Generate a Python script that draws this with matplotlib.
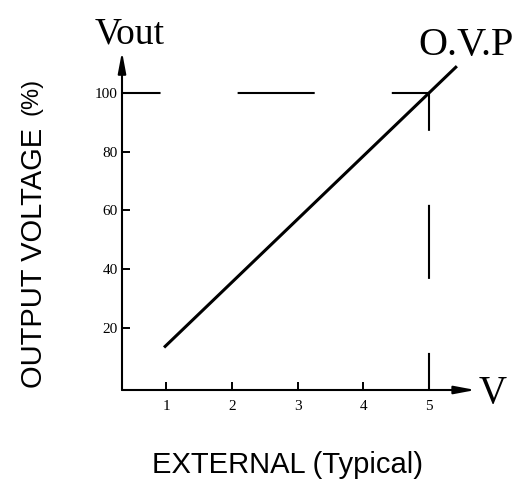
import matplotlib
matplotlib.use("Agg")
import matplotlib.pyplot as plt
from matplotlib import font_manager

# ---- data ----
x_ticks = [1, 2, 3, 4, 5]
x_tick_labels = ["1", "2", "3", "4", "5"]
y_ticks = [20, 40, 60, 80, 100]
y_tick_labels = ["20", "40", "60", "80", "100"]
line_x = [0.97, 5.42]
line_y = [13.5, 109.0]
ovp_x = 5
ovp_y = 100

plt.rcParams['lines.scale_dashes'] = False

fam_names = {f.name for f in font_manager.fontManager.ttflist}
if "Liberation Sans Narrow" in fam_names:
    sans = dict(family="Liberation Sans Narrow")
    sans_size = 25
    pct_size = 21
else:
    sans = dict(family="Liberation Sans")
    sans_size = 21
    pct_size = 17
serif = dict(family="Liberation Serif")

W, H = 523, 482
fig = plt.figure(figsize=(W / 100, H / 100), dpi=100)

def fx(px):
    return px / W

def fy(py):
    return 1 - py / H

ax = fig.add_axes([fx(122), fy(390), fx(472) - fx(122), fy(55) - fy(390)])
ax.set_xlim(0.331, 5.65)
ax.set_ylim(-0.95, 112.8)
for s in ax.spines.values():
    s.set_visible(False)

# axes with arrows
arrow = dict(arrowstyle="-|>,head_length=0.9,head_width=0.17", lw=1.5,
             color="black", mutation_scale=14, shrinkA=0, shrinkB=0)
ax.annotate("", xy=(1.01, 0), xytext=(0, 0), xycoords="axes fraction",
            textcoords="axes fraction", arrowprops=arrow, annotation_clip=False)
ax.annotate("", xy=(0, 1.01), xytext=(0, 0), xycoords="axes fraction",
            textcoords="axes fraction", arrowprops=arrow, annotation_clip=False)

ax.set_xticks(x_ticks)
ax.set_xticklabels(x_tick_labels, fontsize=11, **serif)
ax.set_yticks(y_ticks)
ax.set_yticklabels(y_tick_labels, fontsize=11, **serif)
ax.tick_params(axis="both", direction="in", length=5.8, width=1.4, color="black")
ax.tick_params(axis="x", pad=7)
ax.tick_params(axis="y", pad=3)

# dashed guide lines at O.V.P
y0 = ax.get_ylim()[0]
x0 = ax.get_xlim()[0]
ax.plot([x0, ovp_x], [ovp_y, ovp_y], color="black", lw=1.5,
        linestyle=(27.75, (55.5, 55.5)), solid_capstyle="butt", dash_capstyle="butt")
ax.plot([ovp_x, ovp_x], [y0, ovp_y], color="black", lw=1.5,
        linestyle=(26.6, (53.3, 53.3)), solid_capstyle="butt", dash_capstyle="butt")

# main characteristic line
ax.plot(line_x, line_y, color="black", lw=2.2, solid_capstyle="butt")

# texts
fig.text(fx(130), fy(43), "Vout", ha="center", va="baseline", fontsize=27, **serif)
fig.text(fx(466), fy(55), "O.V.P", ha="center", va="baseline", fontsize=29, **serif)
fig.text(fx(493), fy(403), "V", ha="center", va="baseline", fontsize=28, **serif)

fig.text(fx(41.7), fy(257.5), "OUTPUT VOLTAGE", rotation=90, rotation_mode="anchor",
         ha="center", va="baseline", fontsize=sans_size, **sans)
fig.text(fx(37), fy(96), "(%)", rotation=90, rotation_mode="anchor",
         ha="center", va="baseline", fontsize=pct_size, **sans)
fig.text(fx(288), fy(472.7), "EXTERNAL (Typical)", ha="center", va="baseline",
         fontsize=sans_size, **sans)

fig.savefig("out.png", dpi=100)
